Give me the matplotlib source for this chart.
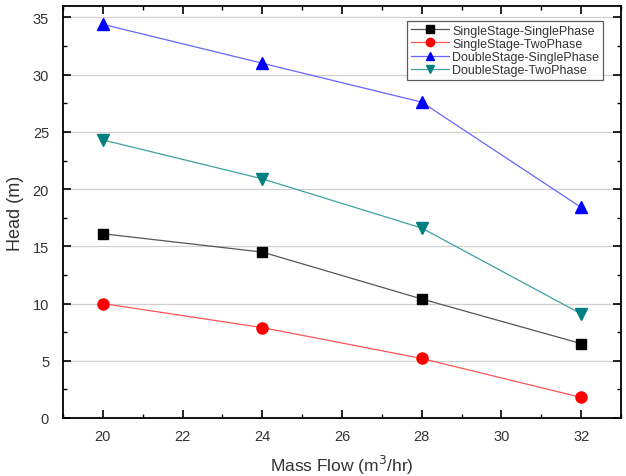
import matplotlib
matplotlib.use('Agg')
import matplotlib.pyplot as plt
from matplotlib.ticker import MultipleLocator

plt.rcParams['font.family'] = ['Liberation Sans', 'DejaVu Sans']

# 数据
flow = [20, 24, 28, 32]
single_single = [16.1, 14.5, 10.4, 6.5]
single_two = [10.0, 7.9, 5.2, 1.8]
double_single = [34.4, 31.0, 27.6, 18.4]
double_two = [24.3, 20.9, 16.6, 9.1]

labels = ['SingleStage-SinglePhase', 'SingleStage-TwoPhase',
          'DoubleStage-SinglePhase', 'DoubleStage-TwoPhase']

fig = plt.figure(figsize=(6.26, 4.77), dpi=100)
ax = fig.add_axes([0.1006, 0.1216, 0.8914, 0.8637])

ax.plot(flow, single_single, color='#555555', lw=0.9, marker='s', ms=7,
        mfc='black', mec='black', label=labels[0])
ax.plot(flow, single_two, color='#ff5555', lw=0.9, marker='o', ms=8,
        mfc='red', mec='red', label=labels[1])
ax.plot(flow, double_single, color='#6666ff', lw=0.9, marker='^', ms=8,
        mfc='blue', mec='blue', label=labels[2])
ax.plot(flow, double_two, color='#40a0a0', lw=0.9, marker='v', ms=8,
        mfc='#008080', mec='#008080', label=labels[3])

ax.set_xlim(19, 33)
ax.set_ylim(0, 36)
ax.xaxis.set_major_locator(MultipleLocator(2))
ax.xaxis.set_minor_locator(MultipleLocator(1))
ax.yaxis.set_major_locator(MultipleLocator(5))
ax.yaxis.set_minor_locator(MultipleLocator(2.5))
ax.tick_params(which='both', direction='in', top=True, right=True,
               labelsize=10.5, colors='black', pad=8)
ax.tick_params(axis='y', which='both', pad=10)
ax.tick_params(which='major', length=6, width=1.2)
ax.tick_params(which='minor', length=3, width=1.0)
for lab in ax.get_xticklabels() + ax.get_yticklabels():
    lab.set_color('#333333')
for s in ax.spines.values():
    s.set_linewidth(1.3)

ax.grid(axis='y', which='major', color='#d0d0d0', lw=0.9)
ax.set_axisbelow(True)

ax.set_xlabel('Mass Flow (m$^3$/hr)', fontsize=12.5, color='#333333', labelpad=7)
ax.set_ylabel('Head (m)', fontsize=13, color='#333333', labelpad=6)

leg = ax.legend(loc='upper right', fontsize=9, frameon=True, fancybox=False,
                edgecolor='#333333', borderpad=0.3, labelspacing=0.1,
                handlelength=3.0, handletextpad=0.3, markerscale=0.75,
                borderaxespad=0, bbox_to_anchor=(0.968, 0.964))
leg.get_frame().set_linewidth(0.9)
for t in leg.get_texts():
    t.set_color('#333333')

fig.savefig('out.png', dpi=100)
